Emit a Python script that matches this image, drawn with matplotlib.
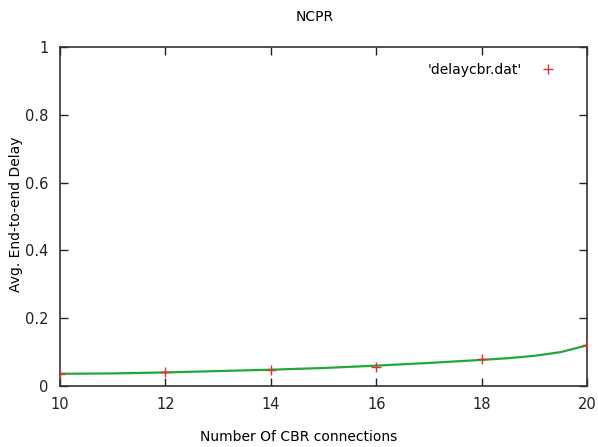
import matplotlib
matplotlib.use("Agg")
import matplotlib.pyplot as plt

# Data points (red +)
x_pts = [10, 12, 14, 16, 18, 20]
y_pts = [0.036, 0.040, 0.046, 0.055, 0.080, 0.122]

# Smoothed curve (green)
x_curve = [10, 11, 12, 13, 14, 15, 16, 17, 18, 18.5, 19, 19.5, 20]
y_curve = [0.036, 0.037, 0.040, 0.044, 0.048, 0.053, 0.060, 0.068, 0.077, 0.082, 0.089, 0.100, 0.120]

x_ticks = [10, 12, 14, 16, 18, 20]
y_ticks = [0, 0.2, 0.4, 0.6, 0.8, 1]
y_ticklabels = ["0", "0.2", "0.4", "0.6", "0.8", "1"]

plt.rcParams['font.family'] = ['DejaVu Sans']
fig = plt.figure(figsize=(5.98, 4.47), dpi=100)
ax = fig.add_axes([0.100, 0.1365, 0.882, 0.7585])

ax.plot(x_curve, y_curve, color="#22a83a", lw=1.6, zorder=2)
ax.plot(x_pts, y_pts, linestyle="none", marker="+", color="#e03030",
        markersize=7, mew=1.0, zorder=3, label="'delaycbr.dat'")

ax.set_xlim(10, 20)
ax.set_ylim(0, 1)
ax.set_xticks(x_ticks)
ax.set_yticks(y_ticks)
ax.set_yticklabels(y_ticklabels)
ax.tick_params(direction="in", top=True, right=True, length=6, width=1,
               labelsize=10.5, pad=8, colors="#222222")
for s in ax.spines.values():
    s.set_linewidth(1.2)
    s.set_color("#333333")

fig.text(0.527, 0.962, "NCPR", ha="center", va="center", fontsize=10)
fig.text(0.5, 0.022, "Number Of CBR connections", ha="center", va="center", fontsize=10)
fig.text(0.026, 0.52, "Avg. End-to-end Delay", ha="center", va="center",
         rotation=90, fontsize=10)

leg = ax.legend(loc="upper right", frameon=False, markerfirst=False,
                fontsize=10, handletextpad=1.2, bbox_to_anchor=(0.97, 0.99),
                handlelength=1.5)

fig.savefig("out.png", dpi=100)
